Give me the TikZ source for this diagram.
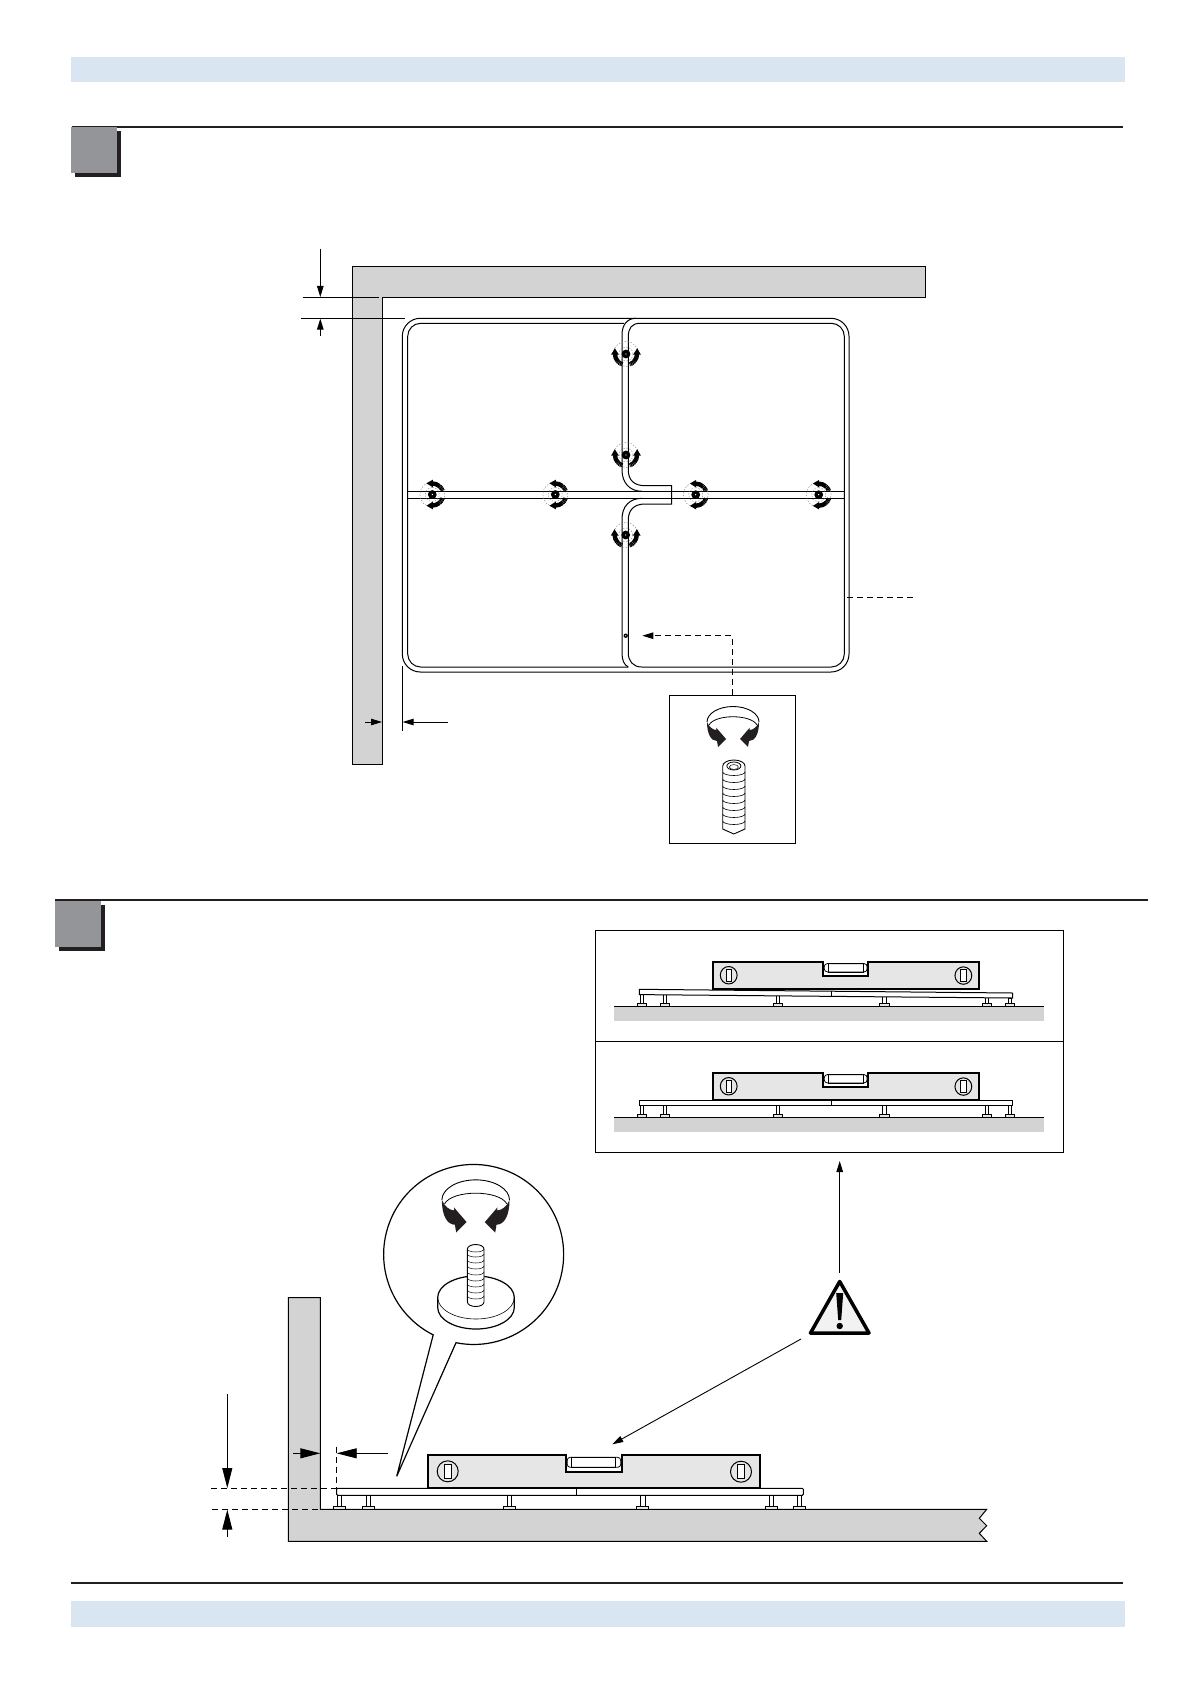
\documentclass[tikz,border=0pt]{standalone}
\usepackage{tikz}
\usetikzlibrary{arrows.meta}
\definecolor{bandblue}{HTML}{D9E6F1}
\definecolor{tabgrey}{HTML}{939598}
\definecolor{inkblack}{HTML}{231F20}
\definecolor{wallgrey}{HTML}{D3D3D3}
\definecolor{levelgrey}{HTML}{E6E6E6}

\tikzset{
    wall/.style = {draw, fill=wallgrey, line width=1pt},
    part/.style = {draw, line width=1pt},
    leader/.style = {line width=.9pt, dash pattern=on 6pt off 4pt},
    dimline/.style = {line width=.9pt},
    smallarrow/.style = {-{Triangle[length=11pt,width=6.5pt]}, line width=.9pt},
    bigarrow/.style = {-{Triangle[length=20pt,width=10pt]}, line width=.9pt},
    markring/.style = {gray, line width=.4pt, dash pattern=on 1.5pt off 1.5pt}
}

% screw mark on a rail: x, y, rotation
\newcommand{\adjmark}[3]{
    \begin{scope}[shift={(#1,#2)},rotate=#3]
        \draw[markring] (0,0) circle (12.5);
        \draw[markring] (0,0) circle (7);
        \fill (0,0) circle (4.4);
        \fill[white] (0,0) circle (.7);
        \foreach \side in {1,-1} {
            \begin{scope}[xscale=\side]
                \draw[line width=4.4pt] (180:11) arc[start angle=180,end angle=140,radius=11];
                \draw[line width=4.4pt, dash pattern=on 1.2pt off .5pt] (140:11) arc[start angle=140,end angle=110,radius=11];
                \fill (-14.8,.5) -- (-7.2,.5) -- (-11.2,-5.8) -- cycle;
            \end{scope}
        }
    \end{scope}
}

% turning band with two black arrows: x, y, scale
\newcommand{\turnicon}[3]{
    \begin{scope}[shift={(#1,#2)},scale=#3]
        \foreach \side in {1,-1} {
            \fill[inkblack, xscale=\side] (-26,0) .. controls (-26,12) and (-22,19) .. (-16,19)
                -- (-15,25) -- (-7,17) -- (-16.7,5.7) -- (-16.5,8)
                .. controls (-20,8) and (-24,5) .. (-26,0) -- cycle;
        }
        \draw[line width=.9pt] (-26,0) arc[start angle=180,end angle=360,x radius=26,y radius=15.5];
        \draw[line width=.8pt] (-24,3) .. controls (-18,-8) and (18,-8) .. (24,3);
    \end{scope}
}

% spirit level: left x, top y, x scale, y scale
\newcommand{\spiritlevel}[4]{
    \begin{scope}[shift={(#1,#2)},xscale=#3,yscale=#4]
        \draw[fill=levelgrey, line width=1.9pt] (0,0) -- (138,0) -- (138,17) -- (194.3,17) -- (194.3,0)
            -- (332.6,0) -- (332.6,33.3) -- (0,33.3) -- cycle;
        \draw[fill=white, line width=.8pt, rounded corners=3pt] (139.5,2.3) rectangle (193,12.3);
        \draw[line width=.8pt] (144,2.3) rectangle (188,12.3);
        \foreach \cx/\cy in {20/16.3, 313.3/16.7} {
            \draw[line width=1pt] (\cx,\cy) circle (10.5);
            \draw[fill=white, line width=.7pt] (\cx-3.3,\cy-7) rectangle (\cx+3.3,\cy+7);
        }
    \end{scope}
}

% adjustable foot: x, y under the slab, y of the floor, half width of the foot
\newcommand{\footleg}[4]{
    \draw[fill=white, line width=.6pt] (#1-#4*.36,#2) rectangle (#1+#4*.36,#3-3);
    \draw[fill=levelgrey, line width=.6pt] (#1-#4,#3-3) rectangle (#1+#4,#3);
}

\begin{document}
\begin{tikzpicture}[x=1pt, y=-1pt, line cap=butt]
    \useasboundingbox[fill=white] (0,0) rectangle (1191,1685);

    % Bands and section tabs

    \fill[bandblue] (71,57) rectangle (1125,82);
    \fill[bandblue] (71,1601) rectangle (1125,1627);

    \fill[inkblack] (72,125.7) rectangle (1123,127.7);
    \fill[inkblack] (75,131) rectangle (121,177);
    \fill[tabgrey] (71,127) rectangle (117,173);

    \fill[inkblack] (55,899) rectangle (1148,901);
    \fill[inkblack] (59,905) rectangle (105,951);
    \fill[tabgrey] (55,901) rectangle (101,947);

    \fill[inkblack] (71,1581.7) rectangle (1123,1583.5);

    % Upper wall

    \draw[wall] (352.3,266.3) -- (925.6,266.3) -- (925.6,297.3) -- (382.3,297.3)
        -- (382.3,764.5) -- (352.3,764.5) -- cycle;

    % Frame and rails

    \draw[part, rounded corners=18pt] (402.3,318.3) rectangle (849,672);
    \draw[part, rounded corners=13pt] (624,323.3) -| (407.7,667) -- (628.3,667);
    \draw[part, rounded corners=13pt] (640,323.3) -| (844.3,667) -- (641.7,667);

    \draw[part] (636,318.3) .. controls (627,318.3) and (622,325) .. (622,335) -- (622,470)
        .. controls (622,483) and (630,491.3) .. (642,491.3);
    \draw[part] (640,323.3) .. controls (632,323.3) and (628.3,328) .. (628.3,337) -- (628.3,470)
        .. controls (628.3,480) and (634,485.7) .. (645,485.7) -- (671.7,485.7) -- (671.7,504) -- (645,504)
        .. controls (634,504) and (628.3,510) .. (628.3,520) -- (628.3,653)
        .. controls (628.3,661) and (633,667) .. (641.7,667);
    \draw[part] (642,498.3) .. controls (630,498.3) and (622,506) .. (622,519) -- (622,653)
        .. controls (622,660) and (624,665) .. (628.3,667);
    \draw[part] (407.7,491.3) -- (844.3,491.3);
    \draw[part] (407.7,498.3) -- (844.3,498.3);

    \adjmark{626}{354}{0}
    \adjmark{626}{455}{0}
    \adjmark{625.7}{535}{0}
    \adjmark{432.3}{494.5}{90}
    \adjmark{555.3}{494.5}{90}
    \adjmark{695.7}{494.7}{90}
    \adjmark{818.7}{494.7}{90}

    \fill (625.7,635.7) circle (2.2);
    \fill[white] (625.7,635.7) circle (.6);

    % Upper dimensions

    \coordinate (gaptopa) at (302.7,297.3);
    \coordinate (gaptopb) at (379,297.3);
    \coordinate (gapbota) at (301,318.3);
    \coordinate (gapbotb) at (405,318.3);
    \coordinate (gapupper) at (320.3,249);
    \coordinate (gaplower) at (320.3,336);
    \coordinate (gapuppertip) at (320.3,297);
    \coordinate (gaplowertip) at (320.3,318.6);
    \draw[dimline] (gaptopa) -- (gaptopb);
    \draw[dimline] (gapbota) -- (gapbotb);
    \draw[smallarrow] (gapupper) -- (gapuppertip);
    \draw[smallarrow] (gaplower) -- (gaplowertip);

    \coordinate (sidea) at (402.3,666);
    \coordinate (sideb) at (402.3,730.7);
    \coordinate (sidewall) at (365,722);
    \coordinate (sidewalltip) at (382,722);
    \coordinate (sideout) at (447.7,722);
    \coordinate (sideouttip) at (402.6,722);
    \draw[dimline] (sidea) -- (sideb);
    \draw[smallarrow] (sidewall) -- (sidewalltip);
    \draw[smallarrow] (sideout) -- (sideouttip);

    % Screw box

    \node[draw, line width=1pt, minimum width=126pt, minimum height=148.7pt, inner sep=0pt] (screwbox) at (732.3,769.6) {};
    \coordinate (framemark) at (847,597.3);
    \coordinate (frametail) at (913,597.3);
    \coordinate (boxbend) at (screwbox.north |- 0,635.7);
    \coordinate (boxtip) at (642.3,635.7);
    \draw[leader] (framemark) -- (frametail);
    \draw[leader, -{Triangle[length=11pt,width=6.5pt]}] (screwbox.north) -- (boxbend) -- (boxtip);

    \turnicon{733}{722}{1}

    \draw[fill=white, line width=.9pt] (722.7,766) -- (722.7,829) -- (733.8,834) -- (745,829) -- (745,766)
        arc[start angle=0,end angle=-180,x radius=11.15,y radius=6];
    \draw[line width=.8pt] (733.85,766) ellipse (7 and 4);
    \draw[line width=.5pt] (733.85,767) ellipse (4.5 and 2.4);
    \foreach \ty in {772,779,...,821} {
        \draw[line width=.6pt] (722.7,\ty) arc[start angle=180,end angle=0,x radius=11.15,y radius=3.5];
    }

    % Panels with the level

    \draw[part] (595.3,930.3) rectangle (1063.3,1152.3);
    \draw[part] (595.3,1041.3) -- (1063.3,1041.3);

    \fill[wallgrey] (614,1006.3) rectangle (1044,1020.7);
    \draw[part] (614,1006.3) -- (1044,1006.3);
    \fill[wallgrey] (614,1117.3) rectangle (1044,1131.7);
    \draw[part] (614,1117.3) -- (1044,1117.3);

    \foreach \lx/\ly in {642/994, 665/994.3, 778/995.5, 884.3/996.6, 987/997.7, 1010/998} {
        \footleg{\lx}{\ly}{1006.3}{4.7}
    }
    \draw[part, fill=white] (639.3,989.3) -- (1012.7,993) -- (1012.7,998) -- (639.3,994.6) -- cycle;
    \draw[part] (831.3,991.3) -- (831.3,996.5);
    \spiritlevel{712.7}{961.7}{.8}{.83}

    \foreach \lx in {642, 665, 778, 884.3, 987, 1010} {
        \footleg{\lx}{1105.3}{1117.3}{4.7}
    }
    \draw[part, fill=white] (639.3,1100.3) rectangle (1012.7,1105.3);
    \draw[part] (831.3,1100.3) -- (831.3,1105.3);
    \spiritlevel{712.7}{1072.7}{.8}{.83}

    % Warning sign and its arrows

    \draw[fill=levelgrey!50, line width=3.5pt, line join=round] (839.7,1281.5) -- (869,1333) -- (810.5,1333) -- cycle;
    \fill (836.2,1293) -- (843.2,1293) -- (841.2,1320) -- (838.2,1320) -- cycle;
    \fill (839.7,1326) circle (3.2);

    \coordinate (signtop) at (839.7,1273);
    \coordinate (panelbottom) at (839.7,1161);
    \coordinate (signleft) at (801,1339);
    \coordinate (leveltip) at (612.3,1444.3);
    \draw[smallarrow] (signtop) -- (panelbottom);
    \draw[smallarrow] (signleft) -- (leveltip);

    % Lower wall and floor

    \draw[wall] (288.3,1297.5) -- (320.3,1297.5) -- (320.3,1509.3) -- (986.7,1509.3) -- (979.3,1518.3)
        -- (986.7,1525.7) -- (979.3,1533.3) -- (986.7,1541.3) -- (288.3,1541.3) -- cycle;

    \foreach \lx in {339.3, 368.3, 509.3, 642.7, 771, 799.3} {
        \footleg{\lx}{1495.3}{1509.3}{6}
    }
    \draw[part, fill=white, rounded corners=1pt] (336.7,1488.3) rectangle (803.3,1495.3);
    \draw[part] (576.7,1488.3) -- (576.7,1495.3);
    \spiritlevel{427.7}{1455}{1}{1}

    % Detail bubble

    \draw[fill=white, line width=1.2pt] (456,1342.7) arc[start angle=101.3,end angle=-243.3,radius=90]
        -- (396.7,1476.3) -- cycle;

    \turnicon{475.7}{1200}{1.3}

    \draw[fill=white, line width=1.2pt] (437.7,1297.5) -- (437.7,1307.5)
        arc[start angle=180,end angle=0,x radius=38.3,y radius=21.5] -- (514.3,1297.5)
        arc[start angle=0,end angle=-180,x radius=38.3,y radius=21.5];
    \draw[line width=.6pt] (437.7,1297.5) arc[start angle=180,end angle=0,x radius=38.3,y radius=21.5];

    \draw[fill=white, line width=.9pt] (467.4,1249) -- (467.4,1302)
        arc[start angle=180,end angle=0,x radius=8.3,y radius=4.5] -- (484,1249)
        arc[start angle=0,end angle=-180,x radius=8.3,y radius=4.5];
    \draw[line width=.5pt] (467.4,1249) arc[start angle=180,end angle=0,x radius=8.3,y radius=3];
    \foreach \ty in {1254,1260,...,1298} {
        \draw[line width=.5pt] (467.4,\ty) arc[start angle=180,end angle=0,x radius=8.3,y radius=3];
    }

    % Lower dimensions

    \coordinate (heighta) at (211,1488.3);
    \coordinate (heightb) at (337,1488.3);
    \coordinate (heightc) at (212,1509.3);
    \coordinate (heightd) at (320.3,1509.3);
    \coordinate (heightupper) at (227.3,1394);
    \coordinate (heightuppertip) at (227.3,1488);
    \coordinate (heightlower) at (227.3,1536.7);
    \coordinate (heightlowertip) at (227.3,1509.6);
    \draw[leader] (heighta) -- (heightb);
    \draw[leader] (heightc) -- (heightd);
    \draw[bigarrow] (heightupper) -- (heightuppertip);
    \draw[bigarrow] (heightlower) -- (heightlowertip);

    \coordinate (gapa) at (336.7,1446.7);
    \coordinate (gapb) at (336.7,1495);
    \coordinate (gapwall) at (293,1453.3);
    \coordinate (gapwalltip) at (320.3,1453.3);
    \coordinate (gapfree) at (387.7,1453.3);
    \coordinate (gapfreetip) at (336.7,1453.3);
    \draw[leader] (gapa) -- (gapb);
    \draw[bigarrow] (gapwall) -- (gapwalltip);
    \draw[bigarrow] (gapfree) -- (gapfreetip);

\end{tikzpicture}
\end{document}
